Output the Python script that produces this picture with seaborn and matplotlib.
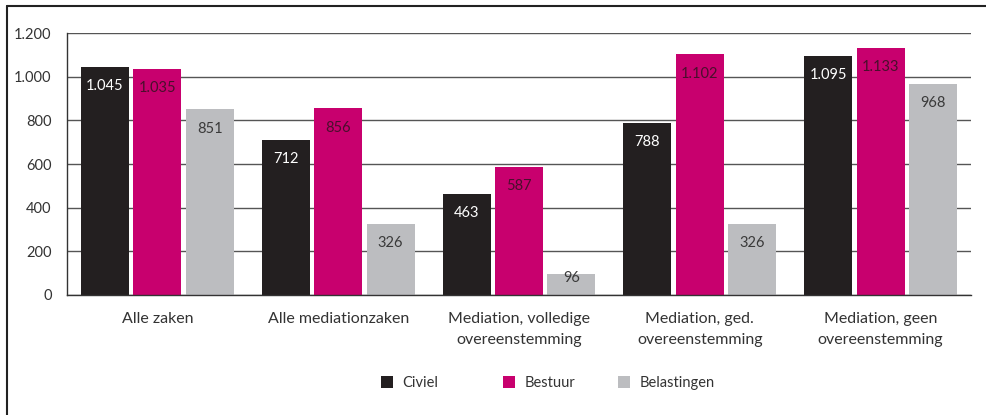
import matplotlib
matplotlib.use("Agg")
import matplotlib.pyplot as plt
import seaborn as sns
import pandas as pd
from matplotlib.lines import Line2D
from matplotlib.patches import Patch

categories = ["Alle zaken", "Alle mediationzaken", "Mediation, volledige\novereenstemming",
              "Mediation, ged.\novereenstemming", "Mediation, geen\novereenstemming"]
series = ["Civiel", "Bestuur", "Belastingen"]
civiel = [1045, 712, 463, 788, 1095]
bestuur = [1035, 856, 587, 1102, 1133]
belastingen = [851, 326, 96, 326, 968]
yticks = [0, 200, 400, 600, 800, 1000, 1200]

colors = ["#231f20", "#c8006e", "#bcbdc0"]
label_colors = ["#ffffff", "#4a0f2c", "#3a3a3a"]

sns.set_theme(style="white")
plt.rcParams['font.family'] = ['Lato', 'DejaVu Sans']
text_color = "#333333"

rows = []
for s, vals in zip(series, [civiel, bestuur, belastingen]):
    for c, v in zip(categories, vals):
        rows.append({"cat": c, "series": s, "value": v})
df = pd.DataFrame(rows)

fig = plt.figure(figsize=(9.86, 4.15), dpi=100)
ax = fig.add_axes([67/986, 1-295/415, (971-67)/986, (295-33)/415])

sns.barplot(data=df, x="cat", y="value", hue="series", order=categories,
            hue_order=series, palette=colors, width=0.87, gap=0.085,
            saturation=1, ax=ax, legend=False, linewidth=0)

ax.set_xlim(-0.5, 4.5)
ax.set_ylim(0, 1200)
ax.set_yticks(yticks)
ax.set_yticklabels([f"{v:,}".replace(",", ".") for v in yticks])
ax.yaxis.grid(True, color="#555555", linewidth=1)
ax.set_axisbelow(True)
ax.set_xlabel("")
ax.set_ylabel("")
for side in ["top", "right"]:
    ax.spines[side].set_visible(False)
ax.spines["left"].set_color("#333333")
ax.spines["bottom"].set_color("#333333")
ax.spines["left"].set_linewidth(1)
ax.spines["bottom"].set_linewidth(1)
ax.tick_params(axis="x", length=0, pad=12, labelsize=11.5, labelcolor=text_color)
ax.tick_params(axis="y", length=0, pad=11, labelsize=10.5, labelcolor=text_color)
for lbl in ax.get_xticklabels():
    lbl.set_linespacing(1.7)

for cont, lc in zip(ax.containers, label_colors):
    for p in cont.patches:
        h = p.get_height()
        off = -14 if h >= 200 else -3
        ax.annotate(f"{int(round(h)):,}".replace(",", "."),
                    (p.get_x() + p.get_width()/2, h),
                    xytext=(0, off), textcoords="offset points",
                    ha="center", va="center", fontsize=10.5, color=lc)

legend_x = [381, 503, 618]
for s, c, lx in zip(series, colors, legend_x):
    fig.legend([Patch(facecolor=c, edgecolor="none")], [s], loc="center left",
               bbox_to_anchor=(lx/986, 1-383/415), frameon=False,
               handlelength=0.85, handleheight=0.85, handletextpad=0.6,
               borderpad=0, borderaxespad=0, fontsize=10.5, labelcolor=text_color)

fig.add_artist(Line2D([7/986, 7/986], [0, 1-6/415], transform=fig.transFigure,
                      color="#222222", linewidth=1.5))
fig.add_artist(Line2D([7/986, 1], [1-6/415, 1-6/415], transform=fig.transFigure,
                      color="#222222", linewidth=1.5))

fig.savefig("out.png", dpi=100)
